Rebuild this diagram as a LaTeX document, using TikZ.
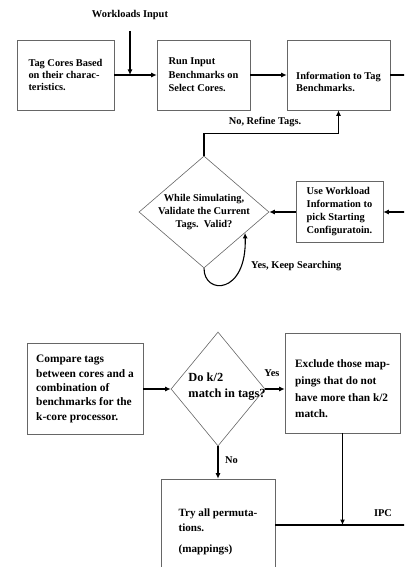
\documentclass[tikz,border=0pt]{standalone}
\usepackage{fontspec}
\setmainfont{Liberation Serif}
\usetikzlibrary{positioning,arrows.meta,shapes.geometric}

\begin{document}
\begin{tikzpicture}[
  x=1pt, y=-1pt,
  font=\fontsize{10.4}{13}\selectfont\bfseries,
  box/.style={rectangle, draw=black!60, line width=0.6pt, align=left, inner sep=0pt},
  decision/.style={diamond, draw=black!60, line width=0.6pt, inner sep=0pt},
  dtext/.style={inner sep=0pt},
  flow/.style={-{Latex[length=5.5pt,width=5pt]}, line width=1.1pt},
  lbl/.style={inner sep=1pt}
]
\useasboundingbox (0,0) rectangle (404,567);
\clip (0,0) rectangle (404,567);

% tagging stage
\node[box, minimum width=97pt, minimum height=70pt, font=\fontsize{10.4}{12}\selectfont\bfseries]  (tag)  at (65.5,75)  {Tag Cores Based\\on their charac-\\teristics.};
\node[box, minimum width=93pt, minimum height=70pt, font=\fontsize{10.4}{13.5}\selectfont\bfseries]  (run)  at (203.5,75) {Run Input\\Benchmarks on\\Select Cores.};
\node[box, minimum width=103pt, minimum height=70pt, text height=33.8pt, font=\fontsize{10.4}{12.3}\selectfont\bfseries] (info) at (338.5,75) {Information to Tag\\Benchmarks.};
\node[lbl] (wl) at (130,15) {Workloads Input};
\coordinate (wlin) at (130,31);

\node[decision, minimum width=130pt, minimum height=112pt] (valid) at (204,212) {};
\node[dtext, align=center] (validq) at (204,212) {While Simulating,\\Validate the Current\\Tags.\ \ Valid?};
\node[box, minimum width=87pt, minimum height=61pt] (use) at (339.5,212) {Use Workload\\Information to\\pick Starting\\Configuratoin.};
\node[lbl] (refine) at (265,122) {No, Refine Tags.};
\node[lbl, anchor=west] (keep) at (250,266) {Yes, Keep Searching};

% mapping stage
\node[box, minimum width=116pt, minimum height=91pt, font=\fontsize{11.4}{14.3}\selectfont\bfseries] (cmp) at (85,389) {Compare tags\\between cores and a\\combination of\\benchmarks for the\\k-core processor.};
\node[decision, minimum width=94pt, minimum height=114pt] (match) at (218,389) {};
\node[dtext, align=left, font=\fontsize{12.4}{16}\selectfont\bfseries] (matchq) at (227,387) {Do k/2\\match in tags?};
\node[box, minimum width=115pt, minimum height=100pt, text height=69.8pt, font=\fontsize{11.3}{16.7}\selectfont\bfseries] (excl) at (342.5,383) {Exclude those map-\\pings that do not\\have more than k/2\\match.};
\node[box, minimum width=114pt, minimum height=92pt, text height=57.3pt, font=\fontsize{11.1}{14.7}\selectfont\bfseries] (try) at (218,525) {Try all permuta-\\tions.\\[6.3pt](mappings)};
\node[lbl] (yes) at (272,373) {Yes};
\node[lbl, anchor=west] (no) at (224,460) {No};
\node[lbl] (ipc) at (383,513) {IPC};
\coordinate (out) at (412,525);

\draw[flow] (tag) -- (run);
\draw[flow] (wlin) -- (wlin |- tag.east);
\draw[flow] (run) -- (info);
\draw[flow] (info.east) -- ++(24,0) |- (use.east);
\draw[flow] (use) -- (valid);
\draw[flow] (valid.north) -- ++(0,-22) -| (info.south);
\draw[flow] (valid.south) .. controls +(0,27) and +(2,62) .. (valid.-27);

\draw[flow] (cmp) -- (match);
\draw[flow] (match.east) -- (match.east -| excl.west);
\draw[flow] (match) -- (try);
\draw[flow] (excl.south) -- (excl.south |- try.east);
\draw[flow] (try.east) -- (out);
\end{tikzpicture}
\end{document}
